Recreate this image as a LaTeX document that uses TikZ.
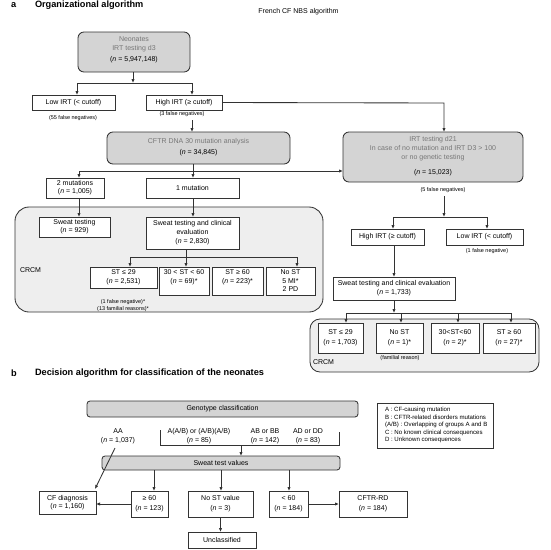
\documentclass[tikz,border=0pt]{standalone}
\usepackage{fontspec}
\setmainfont{Liberation Sans}
\usetikzlibrary{arrows.meta}
\definecolor{lnc}{HTML}{333333}
\definecolor{gboxc}{HTML}{D4D4D4}
\definecolor{gzonec}{HTML}{EEEEEE}
\definecolor{gtxt}{HTML}{777777}
\newcommand{\nv}{\textit{n}}
\newcommand{\myfs}{\fontsize{7}{8}\selectfont}
\newcommand{\myfb}[1]{\fontsize{7}{#1}\selectfont}
\newcommand{\myfn}{\fontsize{5.5}{6.5}\selectfont}
\newcommand{\myfl}{\fontsize{6.1}{7.5}\selectfont}
\newcommand{\myft}{\fontsize{9.2}{10}\selectfont\bfseries}
\begin{document}
\begin{tikzpicture}[x=1pt,y=-1pt,
  every node/.style={inner sep=0pt, outer sep=0pt},
  box/.style={draw=lnc, line width=0.85pt, fill=white, align=center, font=\myfs},
  gbox/.style={draw=lnc, line width=0.85pt, fill=gboxc, rounded corners=6pt, align=center, font=\myfs},
  zone/.style={draw=lnc, line width=0.85pt, fill=gzonec, rounded corners=14pt},
  txt/.style={align=center, font=\myfs},
  note/.style={align=center, font=\myfn},
  arr/.style={draw=lnc, line width=0.85pt, -{Latex[length=4pt,width=3.4pt]}},
  lnk/.style={draw=lnc, line width=0.85pt},
]
\useasboundingbox (0,0) rectangle (550,550);

% ---------- Part a titles
\node[anchor=west, font=\myft] (ta) at (11,5.5) {a};
\node[anchor=west, font=\myft] (tat) at (35,5.5) {Organizational algorithm};
\node[txt] (tfr) at (298.5,12) {French CF NBS algorithm};

% ---------- zones
\node[zone, minimum width=308, minimum height=105] (zoneL) at (169,259.5) {};
\node[zone, rounded corners=10pt, minimum width=229, minimum height=53] (zoneR) at (424.5,345.5) {};

% ---------- top
\node[gbox, minimum width=112, minimum height=40] (neo) at (134,52) {};
\node[txt, text=gtxt, font=\myfb{9}] (neoT) at (134,44) {Neonates\\IRT testing d3};
\node[txt] (neoN) at (134,60) {(\nv{} = 5,947,148)};

\node[box, minimum width=83, minimum height=15] (lowL) at (73.5,102.5) {Low IRT (< cutoff)};
\node[box, minimum width=76, minimum height=15] (highL) at (184,102.5) {High IRT (≥ cutoff)};
\node[note] (fn55) at (73,118) {(55 false negatives)};
\node[note] (fn3) at (182,114) {(3 false negatives)};

\coordinate (j0) at (133,83);
\coordinate (j1l) at (77,83);
\coordinate (j1r) at (192,83);
\draw[arr] (neo.south -| j0) -- (j0);
\draw[lnk] (j1l) -- (j1r);
\draw[arr] (j1l) -- (lowL.north -| j1l);
\draw[arr] (j1r) -- (highL.north -| j1r);

\node[gbox, minimum width=183, minimum height=32] (cftr) at (198.5,148) {};
\node[txt, text=gtxt] (cftrT) at (198.5,142) {CFTR DNA 30 mutation analysis};
\node[txt] (cftrN) at (198.5,153) {(\nv{} = 34,845)};

\coordinate (h1) at (192,120);
\draw[arr] (h1) -- (cftr.north -| h1);

\node[gbox, minimum width=180, minimum height=50] (irt21) at (433,157) {};
\node[txt, text=gtxt, font=\myfb{9}] (irtT) at (433,149) {IRT testing d21\\In case of no mutation and IRT D3 > 100\\or no genetic testing};
\node[txt] (irtN) at (433,173) {(\nv{} = 15,023)};

\coordinate (r1) at (444,103);
\draw[arr] (highL.east) -- (r1) -- (irt21.north -| r1);

% ---------- mutations
\node[box, minimum width=58, minimum height=20] (mut2) at (75,188) {2 mutations\\(\nv{} = 1,005)};
\node[box, minimum width=93, minimum height=20] (mut1) at (192.5,188) {1 mutation};
\coordinate (m1) at (79,171);
\coordinate (c1) at (193,164);
\draw[arr] (m1) -- (m1 -| irt21.west);
\draw[arr] (m1) -- (mut2.north -| m1);
\draw[arr] (c1) -- (mut1.north -| c1);

% ---------- CRCM left
\node[box, minimum width=71, minimum height=20] (sw1) at (74.5,227) {Sweat testing\\(\nv{} = 929)};
\node[box, minimum width=93, minimum height=32, font=\myfb{9}] (sw2) at (192.5,233) {Sweat testing and clinical\\evaluation\\(\nv{} = 2,830)};
\draw[arr] (mut2.south -| m1) -- (sw1.north -| m1);
\draw[arr] (mut1.south -| c1) -- (sw2.north -| c1);

\node[box, minimum width=67, minimum height=21, font=\myfb{9}] (st1) at (123.5,277.5) {ST ≤ 29\\(\nv{} = 2,531)};
\node[box, minimum width=50, minimum height=28] (st2) at (184,281) {};
\node[txt, font=\myfb{9}] (st2T) at (184,277.5) {30 < ST < 60\\(\nv{} = 69)*};
\node[box, minimum width=51, minimum height=28] (st3) at (237.5,281) {};
\node[txt, font=\myfb{9}] (st3T) at (237.5,277.5) {ST ≥ 60\\(\nv{} = 223)*};
\node[box, minimum width=49, minimum height=28, font=\myfb{8.5}] (st4) at (290.5,281) {No ST\\5 MI*\\2 PD};
\node[note] (st1n) at (123,305.5) {(1 false negative)*\\(13 familial reasons)*};
\node[txt, anchor=west] (crcmL) at (20,270) {CRCM};

\coordinate (s1) at (186,257);
\coordinate (s1l) at (130,257);
\coordinate (s1r) at (297,257);
\draw[lnk] (s1l) -- (s1r);
\draw[arr] (sw2.south -| s1) -- (st2.north -| s1);
\draw[arr] (s1l) -- (st1.north -| s1l);
\draw[arr] (s1r) -- (st4.north -| s1r);

% ---------- right branch
\node[note] (fn5) at (443,190) {(5 false negatives)};
\coordinate (r2) at (444,196);
\coordinate (r2j) at (444,217);
\coordinate (r2l) at (393,217);
\coordinate (r2r) at (487,217);
\draw[arr] (r2) -- (r2j);
\draw[lnk] (r2l) -- (r2r);

\node[box, minimum width=73, minimum height=16] (highR) at (387.5,237) {High IRT (≥ cutoff)};
\node[box, minimum width=77, minimum height=16] (lowR) at (484.5,237) {Low IRT (< cutoff)};
\node[note] (fn1) at (487,251) {(1 false negative)};
\draw[arr] (r2l) -- (highR.north -| r2l);
\draw[arr] (r2r) -- (lowR.north -| r2r);

\node[box, minimum width=122, minimum height=23, font=\myfb{9}] (swR) at (394,288.5) {Sweat testing and clinical evaluation\\(\nv{} = 1,733)};
\coordinate (r3) at (394,245);
\draw[arr] (highR.south -| r3) -- (swR.north -| r3);

\coordinate (r4) at (394,313);
\coordinate (r4a) at (346,313);
\coordinate (r4b) at (401,313);
\coordinate (r4c) at (458,313);
\coordinate (r4d) at (511,313);
\draw[arr] (swR.south -| r4) -- (r4);
\draw[lnk] (r4a) -- (r4d);

\node[box, minimum width=45, minimum height=30, font=\myfb{10}] (rst1) at (340.5,338) {ST ≤ 29\\(\nv{} = 1,703)};
\node[box, minimum width=47, minimum height=30, font=\myfb{10}] (rst2) at (399.5,338) {No ST\\(\nv{} = 1)*};
\node[box, minimum width=48, minimum height=30, font=\myfb{10}] (rst3) at (455,338) {30<ST<60\\(\nv{} = 2)*};
\node[box, minimum width=52, minimum height=30, font=\myfb{10}] (rst4) at (509,338) {ST ≥ 60\\(\nv{} = 27)*};
\draw[arr] (r4a) -- (rst1.north -| r4a);
\draw[arr] (r4b) -- (rst2.north -| r4b);
\draw[arr] (r4c) -- (rst3.north -| r4c);
\draw[arr] (r4d) -- (rst4.north -| r4d);
\node[note] (fam) at (400,358) {(familial reason)};
\node[txt, anchor=west] (crcmR) at (313,362) {CRCM};

% ---------- Part b
\node[anchor=west, font=\myft] (tb) at (11,373) {b};
\node[anchor=west, font=\myft] (tbt) at (35,373) {Decision algorithm for classification of the neonates};

\node[gbox, rounded corners=3pt, minimum width=271, minimum height=16] (geno) at (222.5,409) {Genotype classification};
\node[box, minimum width=116, minimum height=45] (leg) at (435,425.5) {};
\node[anchor=west, align=left, font=\myfl] (legT) at (385,425) {A : CF-causing mutation\\B : CFTR-related disorders mutations\\(A/B) : Overlapping of groups A and B\\C : No known clinical consequences\\D : Unknown consequences};

\node[txt, font=\myfb{9}] (gAA) at (118,436.5) {AA\\(\nv{} = 1,037)};
\node[txt, font=\myfb{9}] (gAB) at (199,436.5) {A(A/B) or (A/B)(A/B)\\(\nv{} = 85)};
\node[txt, font=\myfb{9}] (gBB) at (265,436.5) {AB or BB\\(\nv{} = 142)};
\node[txt, font=\myfb{9}] (gAD) at (308,436.5) {AD or DD\\(\nv{} = 83)};

\coordinate (b1) at (160,430);
\coordinate (b2) at (160,445);
\coordinate (b3) at (339,445);
\coordinate (b4) at (339,432);
\coordinate (b5) at (241,445);
\draw[lnk] (b1) -- (b2) -- (b3) -- (b4);

\node[gbox, rounded corners=3pt, minimum width=238, minimum height=14] (swt) at (221,463) {Sweat test values};
\draw[arr] (b5) -- (swt.north -| b5);

\node[box, minimum width=57, minimum height=23] (cfd) at (67.5,502.5) {CF diagnosis\\(\nv{} = 1,160)};
\node[box, minimum width=37, minimum height=26, font=\myfb{10}] (g60) at (149.5,504) {≥ 60\\(\nv{} = 123)};
\node[box, minimum width=65, minimum height=26, font=\myfb{10}] (nost) at (220.5,504) {No ST value\\(\nv{} = 3)};
\node[box, minimum width=39, minimum height=26, font=\myfb{10}] (l60) at (288.5,504) {< 60\\(\nv{} = 184)};
\node[box, minimum width=68, minimum height=26, font=\myfb{10}] (rd) at (373,504) {CFTR-RD\\(\nv{} = 184)};
\node[box, minimum width=68, minimum height=16] (uncl) at (222,540) {Unclassified};

\coordinate (aa1) at (115,448);
\coordinate (aa2) at (95,489);
\draw[arr] (aa1) -- (aa2);

\coordinate (d1) at (154,470);
\coordinate (d2) at (221,470);
\coordinate (d3) at (289,470);
\draw[arr] (d1) -- (g60.north -| d1);
\draw[arr] (d2) -- (nost.north -| d2);
\draw[arr] (d3) -- (l60.north -| d3);
\draw[arr] (g60.west) -- (g60.west -| cfd.east);
\draw[arr] (l60.east) -- (l60.east -| rd.west);
\draw[arr] (nost.south) -- (uncl.north -| nost.south);
\end{tikzpicture}
\end{document}
